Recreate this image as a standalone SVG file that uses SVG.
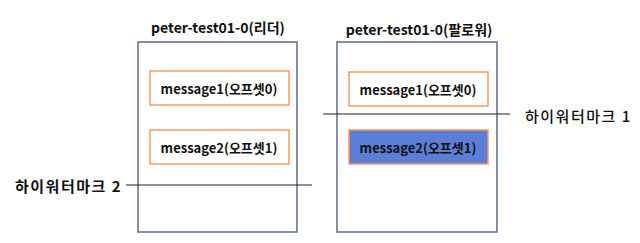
<svg xmlns="http://www.w3.org/2000/svg" width="640" height="243" viewBox="0 0 640 243">
<style>
.part{fill:#fff;stroke:#5D6A93;stroke-width:1.5}
.msg{fill:#fff;stroke:#F79A5C;stroke-width:1.5}
.msg.hl{fill:#5B7ED6}
text{font-family:"Noto Sans CJK KR","Noto Sans",sans-serif;font-weight:bold;fill:#111;dominant-baseline:central}
.t{font-size:14px;text-anchor:middle}
.m{font-size:13px;text-anchor:middle}
.hw{font-size:15px;letter-spacing:1.5px}
.ln{stroke:#222;stroke-width:1.2}
</style>
<rect width="640" height="243" fill="#fff"/>
<g id="leader">
<text class="t" x="218" y="27">peter-test01-0(리더)</text>
<rect class="part" x="138" y="42" width="159" height="190"/>
</g>
<g id="follower">
<text class="t" x="419" y="29">peter-test01-0(팔로워)</text>
<rect class="part" x="337" y="42" width="160" height="190"/>
</g>
<g id="leader-msg1">
<rect class="msg" x="150" y="71" width="139" height="34"/>
<text class="m" x="219" y="88">message1(오프셋0)</text>
</g>
<g id="leader-msg2">
<rect class="msg" x="150" y="130" width="139" height="34"/>
<text class="m" x="219" y="147">message2(오프셋1)</text>
</g>
<g id="follower-msg1">
<rect class="msg" x="349" y="72" width="139" height="34"/>
<text class="m" x="418" y="89">message1(오프셋0)</text>
</g>
<g id="follower-msg2">
<rect class="msg hl" x="349" y="130" width="139" height="34"/>
<text class="m" x="418" y="147">message2(오프셋1)</text>
</g>
<g id="connectors">
<line class="ln" x1="126" y1="185" x2="312" y2="185"/>
<line class="ln" x1="323" y1="114" x2="510" y2="114"/>
</g>
<g id="hw2"><text class="hw" x="15" y="185">하이워터마크 2</text></g>
<g id="hw1"><text class="hw" x="525" y="115" style="font-weight:500">하이워터마크 1</text></g>
</svg>
